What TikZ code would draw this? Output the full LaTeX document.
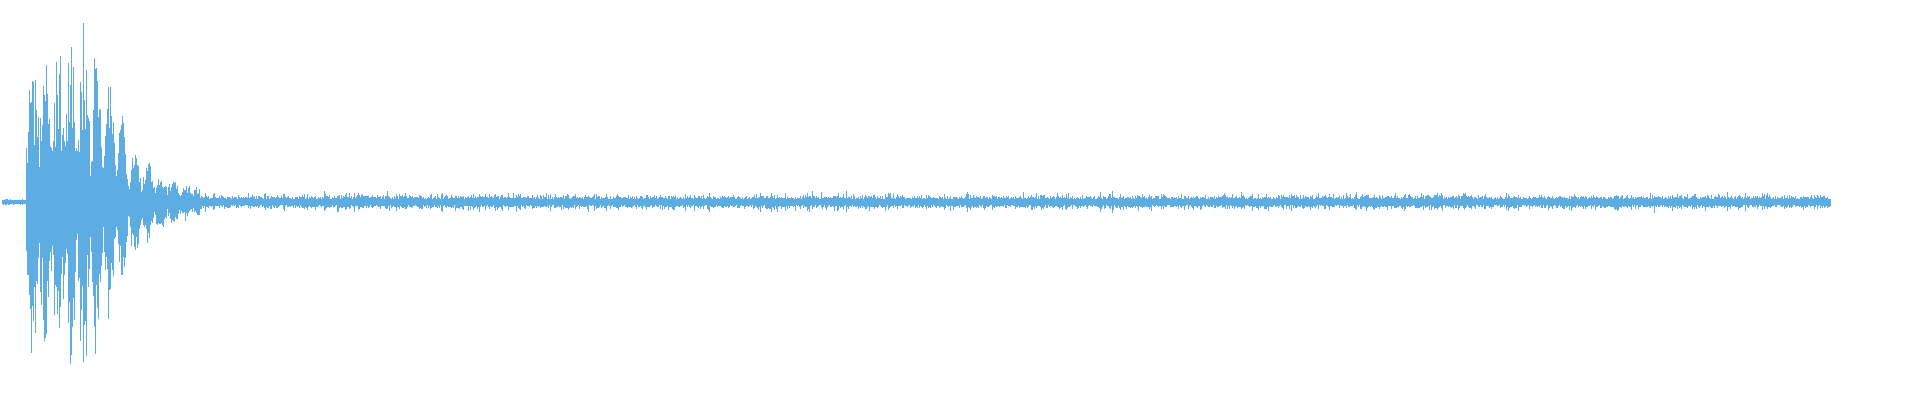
\documentclass[tikz,border=0pt]{standalone}
\definecolor{wave}{HTML}{5DADE2}
\begin{document}
\begin{tikzpicture}[x=1pt,y=1pt,wv/.style={draw=wave,line width=0.7pt}]
\useasboundingbox (0,0) rectangle (1920,400);
\pgfmathsetseed{42}
\foreach \i in {2,3,...,1830}{
  \ifnum\i<26
    \pgfmathsetmacro{\A}{3}
  \else\ifnum\i<100
    \pgfmathsetmacro{\A}{(115+80*rnd)*(0.35+0.65*abs(sin(\i*14)))}
  \else\ifnum\i<200
    \pgfmathsetmacro{\A}{10+160*exp(-(\i-100)/30)*(0.15+0.85*abs(sin(\i*14)))}
  \else
    \pgfmathsetmacro{\A}{5+7*rnd*rnd}
  \fi\fi\fi
  \pgfmathsetmacro{\t}{\A*(0.5+0.5*rnd)}
  \pgfmathsetmacro{\b}{\A*(0.5+0.5*rnd)}
  \draw[wv] (\i,198+\t) -- (\i,198-\b);
}
\draw[wv] (2,198) -- (1830,198);
\end{tikzpicture}
\end{document}
